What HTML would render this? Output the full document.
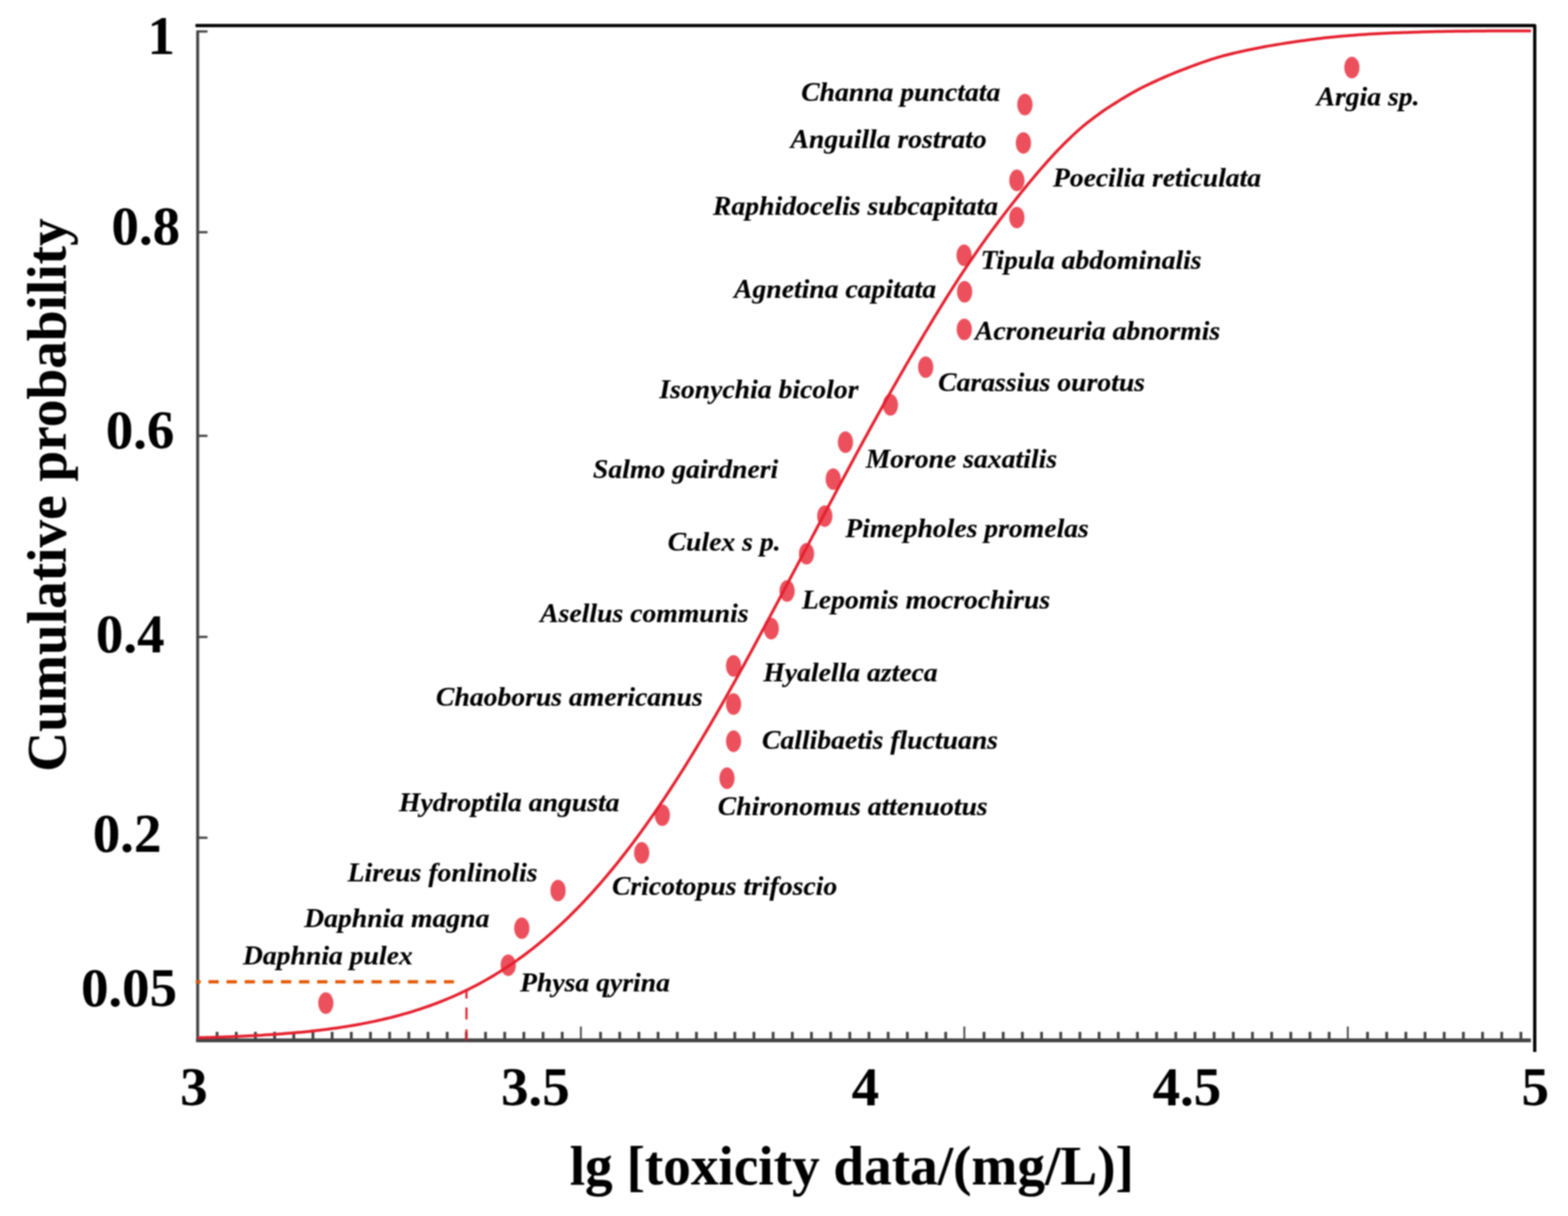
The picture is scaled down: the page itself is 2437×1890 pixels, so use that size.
<!DOCTYPE html>
<html lang="en"><head><meta charset="utf-8"><title>Species sensitivity distribution</title>
<style>html,body{margin:0;padding:0;background:#fff}body{width:2437px;height:1890px;overflow:hidden}svg{display:block}
text{font-family:"Liberation Serif",serif;font-weight:bold;fill:#000;stroke:#000;stroke-width:0.2px;stroke-linejoin:round}
.sp{font-style:italic;font-size:43.0px}.ax{font-size:85.3px}
</style></head><body>
<svg width="2437" height="1890" viewBox="0 0 2437 1890">
<defs><filter id="soft" color-interpolation-filters="sRGB" x="0" y="0" width="2437" height="1890" filterUnits="userSpaceOnUse"><feGaussianBlur stdDeviation="1.0"/></filter></defs>
<rect width="2437" height="1890" fill="#fff"/>
<g filter="url(#soft)">
<rect width="2437" height="1890" fill="#fff"/>
<g fill="none" stroke-linecap="butt">
<line x1="307.2" y1="47.2" x2="307.2" y2="1620.0" stroke="#444" stroke-width="4.6"/>
<line x1="304.7" y1="1617.0" x2="2379.3" y2="1617.0" stroke="#444" stroke-width="6.2"/>
<line x1="307.2" y1="48.9" x2="322.5" y2="48.9" stroke="#444" stroke-width="3.5"/>
<line x1="307.2" y1="360.9" x2="322.5" y2="360.9" stroke="#444" stroke-width="3.5"/>
<line x1="307.2" y1="677.4" x2="322.5" y2="677.4" stroke="#444" stroke-width="3.5"/>
<line x1="307.2" y1="989.9" x2="322.5" y2="989.9" stroke="#444" stroke-width="3.5"/>
<line x1="307.2" y1="1302.1" x2="322.5" y2="1302.1" stroke="#444" stroke-width="3.5"/>
<line x1="337.4" y1="1617.0" x2="337.4" y2="1603.8" stroke="#444" stroke-width="4.4"/>
<line x1="367.2" y1="1617.0" x2="367.2" y2="1603.8" stroke="#444" stroke-width="4.4"/>
<line x1="397.0" y1="1617.0" x2="397.0" y2="1603.8" stroke="#444" stroke-width="4.4"/>
<line x1="426.8" y1="1617.0" x2="426.8" y2="1603.8" stroke="#444" stroke-width="4.4"/>
<line x1="456.6" y1="1617.0" x2="456.6" y2="1603.8" stroke="#444" stroke-width="4.4"/>
<line x1="486.4" y1="1617.0" x2="486.4" y2="1603.8" stroke="#444" stroke-width="4.4"/>
<line x1="516.2" y1="1617.0" x2="516.2" y2="1603.8" stroke="#444" stroke-width="4.4"/>
<line x1="546.0" y1="1617.0" x2="546.0" y2="1603.8" stroke="#444" stroke-width="4.4"/>
<line x1="575.8" y1="1617.0" x2="575.8" y2="1603.8" stroke="#444" stroke-width="4.4"/>
<line x1="605.6" y1="1617.0" x2="605.6" y2="1603.8" stroke="#444" stroke-width="4.4"/>
<line x1="635.4" y1="1617.0" x2="635.4" y2="1603.8" stroke="#444" stroke-width="4.4"/>
<line x1="665.2" y1="1617.0" x2="665.2" y2="1603.8" stroke="#444" stroke-width="4.4"/>
<line x1="695.0" y1="1617.0" x2="695.0" y2="1603.8" stroke="#444" stroke-width="4.4"/>
<line x1="724.8" y1="1617.0" x2="724.8" y2="1603.8" stroke="#444" stroke-width="4.4"/>
<line x1="754.6" y1="1617.0" x2="754.6" y2="1603.8" stroke="#444" stroke-width="4.4"/>
<line x1="784.4" y1="1617.0" x2="784.4" y2="1603.8" stroke="#444" stroke-width="4.4"/>
<line x1="814.2" y1="1617.0" x2="814.2" y2="1603.8" stroke="#444" stroke-width="4.4"/>
<line x1="844.0" y1="1617.0" x2="844.0" y2="1603.8" stroke="#444" stroke-width="4.4"/>
<line x1="873.8" y1="1617.0" x2="873.8" y2="1603.8" stroke="#444" stroke-width="4.4"/>
<line x1="902.8" y1="1617.0" x2="902.8" y2="1595.5" stroke="#444" stroke-width="2.8"/>
<line x1="933.4" y1="1617.0" x2="933.4" y2="1603.8" stroke="#444" stroke-width="4.4"/>
<line x1="963.2" y1="1617.0" x2="963.2" y2="1603.8" stroke="#444" stroke-width="4.4"/>
<line x1="993.0" y1="1617.0" x2="993.0" y2="1603.8" stroke="#444" stroke-width="4.4"/>
<line x1="1022.8" y1="1617.0" x2="1022.8" y2="1603.8" stroke="#444" stroke-width="4.4"/>
<line x1="1052.6" y1="1617.0" x2="1052.6" y2="1603.8" stroke="#444" stroke-width="4.4"/>
<line x1="1082.4" y1="1617.0" x2="1082.4" y2="1603.8" stroke="#444" stroke-width="4.4"/>
<line x1="1112.2" y1="1617.0" x2="1112.2" y2="1603.8" stroke="#444" stroke-width="4.4"/>
<line x1="1142.0" y1="1617.0" x2="1142.0" y2="1603.8" stroke="#444" stroke-width="4.4"/>
<line x1="1171.8" y1="1617.0" x2="1171.8" y2="1603.8" stroke="#444" stroke-width="4.4"/>
<line x1="1201.6" y1="1617.0" x2="1201.6" y2="1603.8" stroke="#444" stroke-width="4.4"/>
<line x1="1231.4" y1="1617.0" x2="1231.4" y2="1603.8" stroke="#444" stroke-width="4.4"/>
<line x1="1261.2" y1="1617.0" x2="1261.2" y2="1603.8" stroke="#444" stroke-width="4.4"/>
<line x1="1291.0" y1="1617.0" x2="1291.0" y2="1603.8" stroke="#444" stroke-width="4.4"/>
<line x1="1320.8" y1="1617.0" x2="1320.8" y2="1603.8" stroke="#444" stroke-width="4.4"/>
<line x1="1350.6" y1="1617.0" x2="1350.6" y2="1603.8" stroke="#444" stroke-width="4.4"/>
<line x1="1380.4" y1="1617.0" x2="1380.4" y2="1603.8" stroke="#444" stroke-width="4.4"/>
<line x1="1410.2" y1="1617.0" x2="1410.2" y2="1603.8" stroke="#444" stroke-width="4.4"/>
<line x1="1440.0" y1="1617.0" x2="1440.0" y2="1603.8" stroke="#444" stroke-width="4.4"/>
<line x1="1469.8" y1="1617.0" x2="1469.8" y2="1603.8" stroke="#444" stroke-width="4.4"/>
<line x1="1498.8" y1="1617.0" x2="1498.8" y2="1595.5" stroke="#444" stroke-width="2.8"/>
<line x1="1529.4" y1="1617.0" x2="1529.4" y2="1603.8" stroke="#444" stroke-width="4.4"/>
<line x1="1559.2" y1="1617.0" x2="1559.2" y2="1603.8" stroke="#444" stroke-width="4.4"/>
<line x1="1589.0" y1="1617.0" x2="1589.0" y2="1603.8" stroke="#444" stroke-width="4.4"/>
<line x1="1618.8" y1="1617.0" x2="1618.8" y2="1603.8" stroke="#444" stroke-width="4.4"/>
<line x1="1648.6" y1="1617.0" x2="1648.6" y2="1603.8" stroke="#444" stroke-width="4.4"/>
<line x1="1678.4" y1="1617.0" x2="1678.4" y2="1603.8" stroke="#444" stroke-width="4.4"/>
<line x1="1708.2" y1="1617.0" x2="1708.2" y2="1603.8" stroke="#444" stroke-width="4.4"/>
<line x1="1738.0" y1="1617.0" x2="1738.0" y2="1603.8" stroke="#444" stroke-width="4.4"/>
<line x1="1767.8" y1="1617.0" x2="1767.8" y2="1603.8" stroke="#444" stroke-width="4.4"/>
<line x1="1797.6" y1="1617.0" x2="1797.6" y2="1603.8" stroke="#444" stroke-width="4.4"/>
<line x1="1827.4" y1="1617.0" x2="1827.4" y2="1603.8" stroke="#444" stroke-width="4.4"/>
<line x1="1857.2" y1="1617.0" x2="1857.2" y2="1603.8" stroke="#444" stroke-width="4.4"/>
<line x1="1887.0" y1="1617.0" x2="1887.0" y2="1603.8" stroke="#444" stroke-width="4.4"/>
<line x1="1916.8" y1="1617.0" x2="1916.8" y2="1603.8" stroke="#444" stroke-width="4.4"/>
<line x1="1946.6" y1="1617.0" x2="1946.6" y2="1603.8" stroke="#444" stroke-width="4.4"/>
<line x1="1976.4" y1="1617.0" x2="1976.4" y2="1603.8" stroke="#444" stroke-width="4.4"/>
<line x1="2006.2" y1="1617.0" x2="2006.2" y2="1603.8" stroke="#444" stroke-width="4.4"/>
<line x1="2036.0" y1="1617.0" x2="2036.0" y2="1603.8" stroke="#444" stroke-width="4.4"/>
<line x1="2065.8" y1="1617.0" x2="2065.8" y2="1603.8" stroke="#444" stroke-width="4.4"/>
<line x1="2094.8" y1="1617.0" x2="2094.8" y2="1595.5" stroke="#444" stroke-width="2.8"/>
<line x1="2125.4" y1="1617.0" x2="2125.4" y2="1603.8" stroke="#444" stroke-width="4.4"/>
<line x1="2155.2" y1="1617.0" x2="2155.2" y2="1603.8" stroke="#444" stroke-width="4.4"/>
<line x1="2185.0" y1="1617.0" x2="2185.0" y2="1603.8" stroke="#444" stroke-width="4.4"/>
<line x1="2214.8" y1="1617.0" x2="2214.8" y2="1603.8" stroke="#444" stroke-width="4.4"/>
<line x1="2244.6" y1="1617.0" x2="2244.6" y2="1603.8" stroke="#444" stroke-width="4.4"/>
<line x1="2274.4" y1="1617.0" x2="2274.4" y2="1603.8" stroke="#444" stroke-width="4.4"/>
<line x1="2304.2" y1="1617.0" x2="2304.2" y2="1603.8" stroke="#444" stroke-width="4.4"/>
<line x1="2334.0" y1="1617.0" x2="2334.0" y2="1603.8" stroke="#444" stroke-width="4.4"/>
<line x1="2363.8" y1="1617.0" x2="2363.8" y2="1603.8" stroke="#444" stroke-width="4.4"/>
</g>
<line x1="304.2" y1="1525.9" x2="705.5" y2="1525.9" stroke="#e35600" stroke-width="5" stroke-dasharray="16 12.16" stroke-dashoffset="8.4"/>
<line x1="725.0" y1="1537" x2="725.0" y2="1617" stroke="#e5202e" stroke-width="3.3" stroke-dasharray="15 14 18.5 15.5 17 100"/>
<g fill="#ec505c">
<ellipse cx="2101.1" cy="105.0" rx="11.8" ry="16.8"/>
<ellipse cx="1592.9" cy="162.5" rx="11.8" ry="16.8"/>
<ellipse cx="1590.6" cy="222.2" rx="11.8" ry="16.8"/>
<ellipse cx="1580.4" cy="280.4" rx="11.8" ry="16.8"/>
<ellipse cx="1580.4" cy="338.2" rx="11.8" ry="16.8"/>
<ellipse cx="1498.4" cy="396.8" rx="11.8" ry="16.8"/>
<ellipse cx="1499.2" cy="453.5" rx="11.8" ry="16.8"/>
<ellipse cx="1498.7" cy="512.0" rx="11.8" ry="16.8"/>
<ellipse cx="1438.7" cy="570.7" rx="11.8" ry="16.8"/>
<ellipse cx="1383.9" cy="629.3" rx="11.8" ry="16.8"/>
<ellipse cx="1314.0" cy="687.3" rx="11.8" ry="16.8"/>
<ellipse cx="1295.0" cy="744.7" rx="11.8" ry="16.8"/>
<ellipse cx="1281.9" cy="802.2" rx="11.8" ry="16.8"/>
<ellipse cx="1253.5" cy="860.7" rx="11.8" ry="16.8"/>
<ellipse cx="1223.3" cy="918.6" rx="11.8" ry="16.8"/>
<ellipse cx="1198.7" cy="977.1" rx="11.8" ry="16.8"/>
<ellipse cx="1140.1" cy="1035.0" rx="11.8" ry="16.8"/>
<ellipse cx="1140.1" cy="1094.3" rx="11.8" ry="16.8"/>
<ellipse cx="1140.1" cy="1152.1" rx="11.8" ry="16.8"/>
<ellipse cx="1129.9" cy="1209.6" rx="11.8" ry="16.8"/>
<ellipse cx="1029.4" cy="1267.0" rx="11.8" ry="16.8"/>
<ellipse cx="997.3" cy="1325.6" rx="11.8" ry="16.8"/>
<ellipse cx="867.3" cy="1384.2" rx="11.8" ry="16.8"/>
<ellipse cx="811.0" cy="1442.7" rx="11.8" ry="16.8"/>
<ellipse cx="789.9" cy="1500.2" rx="11.8" ry="16.8"/>
<ellipse cx="506.4" cy="1559.1" rx="11.8" ry="16.8"/>
</g>
<polyline points="307.2,1613.0 312.2,1612.8 317.2,1612.7 322.2,1612.6 327.2,1612.4 332.2,1612.3 337.2,1612.1 342.2,1611.9 347.2,1611.8 352.2,1611.6 357.2,1611.4 362.2,1611.2 367.2,1611.0 372.2,1610.8 377.2,1610.5 382.2,1610.3 387.2,1610.0 392.2,1609.8 397.2,1609.5 402.2,1609.2 407.2,1609.0 412.2,1608.6 417.2,1608.3 422.2,1608.0 427.2,1607.7 432.2,1607.3 437.2,1606.9 442.2,1606.5 447.2,1606.1 452.2,1605.7 457.2,1605.3 462.2,1604.8 467.2,1604.4 472.2,1603.9 477.2,1603.4 482.2,1602.9 487.2,1602.3 492.2,1601.8 497.2,1601.2 502.2,1600.6 507.2,1599.9 512.2,1599.3 517.2,1598.6 522.2,1597.9 527.2,1597.2 532.2,1596.4 537.2,1595.7 542.2,1594.9 547.2,1594.0 552.2,1593.2 557.2,1592.3 562.2,1591.4 567.2,1590.4 572.2,1589.4 577.2,1588.4 582.2,1587.4 587.2,1586.3 592.2,1585.1 597.2,1584.0 602.2,1582.8 607.2,1581.6 612.2,1580.3 617.2,1579.0 622.2,1577.6 627.2,1576.2 632.2,1574.8 637.2,1573.3 642.2,1571.8 647.2,1570.2 652.2,1568.6 657.2,1566.9 662.2,1565.2 667.2,1563.5 672.2,1561.7 677.2,1559.8 682.2,1557.9 687.2,1555.9 692.2,1553.9 697.2,1551.8 702.2,1549.7 707.2,1547.5 712.2,1545.2 717.2,1542.9 722.2,1540.5 727.2,1538.1 732.2,1535.6 737.2,1533.0 742.2,1530.4 747.2,1527.7 752.2,1524.9 757.2,1522.1 762.2,1519.2 767.2,1516.3 772.2,1513.2 777.2,1510.1 782.2,1506.9 787.2,1503.7 792.2,1500.3 797.2,1496.9 802.2,1493.5 807.2,1489.9 812.2,1486.3 817.2,1482.6 822.2,1478.8 827.2,1474.9 832.2,1470.9 837.2,1466.9 842.2,1462.8 847.2,1458.6 852.2,1454.3 857.2,1449.9 862.2,1445.5 867.2,1440.9 872.2,1436.3 877.2,1431.6 882.2,1426.8 887.2,1421.9 892.2,1416.9 897.2,1411.9 902.2,1406.7 907.2,1401.5 912.2,1396.1 917.2,1390.7 922.2,1385.2 927.2,1379.6 932.2,1373.9 937.2,1368.1 942.2,1362.2 947.2,1356.3 952.2,1350.2 957.2,1344.1 962.2,1337.9 967.2,1331.5 972.2,1325.1 977.2,1318.6 982.2,1312.0 987.2,1305.4 992.2,1298.6 997.2,1291.7 1002.2,1284.8 1007.2,1277.8 1012.2,1270.7 1017.2,1263.5 1022.2,1256.2 1027.2,1248.8 1032.2,1241.4 1037.2,1233.8 1042.2,1226.2 1047.2,1218.5 1052.2,1210.8 1057.2,1202.9 1062.2,1195.0 1067.2,1187.0 1072.2,1178.9 1077.2,1170.8 1082.2,1162.5 1087.2,1154.2 1092.2,1145.9 1097.2,1137.5 1102.2,1129.0 1107.2,1120.4 1112.2,1111.8 1117.2,1103.1 1122.2,1094.3 1127.2,1085.5 1132.2,1076.7 1137.2,1067.7 1142.2,1058.8 1147.2,1049.7 1152.2,1040.7 1157.2,1031.6 1162.2,1022.4 1167.2,1013.2 1172.2,1003.9 1177.2,994.6 1182.2,985.3 1187.2,976.0 1192.2,966.6 1197.2,957.2 1202.2,947.9 1207.2,938.5 1212.2,929.1 1217.2,919.7 1222.2,910.3 1227.2,900.9 1232.2,891.4 1237.2,882.0 1242.2,872.6 1247.2,863.1 1252.2,853.7 1257.2,844.2 1262.2,834.8 1267.2,825.4 1272.2,815.9 1277.2,806.5 1282.2,797.0 1287.2,787.6 1292.2,778.2 1297.2,768.8 1302.2,759.3 1307.2,749.9 1312.2,740.5 1317.2,731.2 1322.2,721.9 1327.2,712.6 1332.2,703.3 1337.2,694.1 1342.2,684.9 1347.2,675.8 1352.2,666.7 1357.2,657.6 1362.2,648.6 1367.2,639.6 1372.2,630.6 1377.2,621.7 1382.2,612.9 1387.2,604.0 1392.2,595.3 1397.2,586.5 1402.2,577.8 1407.2,569.2 1412.2,560.5 1417.2,552.0 1422.2,543.5 1427.2,535.0 1432.2,526.5 1437.2,518.1 1442.2,509.8 1447.2,501.5 1452.2,493.2 1457.2,485.0 1462.2,476.9 1467.2,468.8 1472.2,460.8 1477.2,452.9 1482.2,445.0 1487.2,437.2 1492.2,429.5 1497.2,421.9 1502.2,414.4 1507.2,407.0 1512.2,399.7 1517.2,392.4 1522.2,385.3 1527.2,378.2 1532.2,371.2 1537.2,364.3 1542.2,357.5 1547.2,350.8 1552.2,344.1 1557.2,337.5 1562.2,331.0 1567.2,324.5 1572.2,318.1 1577.2,311.8 1582.2,305.5 1587.2,299.2 1592.2,293.0 1597.2,286.9 1602.2,280.9 1607.2,274.9 1612.2,269.0 1617.2,263.1 1622.2,257.4 1627.2,251.8 1632.2,246.2 1637.2,240.8 1642.2,235.4 1647.2,230.2 1652.2,225.1 1657.2,220.2 1662.2,215.3 1667.2,210.5 1672.2,205.9 1677.2,201.4 1682.2,197.1 1687.2,193.0 1692.2,189.0 1697.2,185.2 1702.2,181.4 1707.2,177.8 1712.2,174.2 1717.2,170.7 1722.2,167.4 1727.2,164.1 1732.2,161.0 1737.2,157.8 1742.2,154.7 1747.2,151.7 1752.2,148.7 1757.2,145.8 1762.2,143.0 1767.2,140.3 1772.2,137.6 1777.2,135.1 1782.2,132.6 1787.2,130.3 1792.2,127.9 1797.2,125.6 1802.2,123.3 1807.2,121.1 1812.2,118.9 1817.2,116.8 1822.2,114.7 1827.2,112.6 1832.2,110.6 1837.2,108.7 1842.2,106.8 1847.2,104.9 1852.2,103.0 1857.2,101.1 1862.2,99.3 1867.2,97.5 1872.2,95.8 1877.2,94.1 1882.2,92.4 1887.2,90.9 1892.2,89.4 1897.2,87.9 1902.2,86.5 1907.2,85.2 1912.2,84.0 1917.2,82.8 1922.2,81.6 1927.2,80.5 1932.2,79.4 1937.2,78.3 1942.2,77.2 1947.2,76.2 1952.2,75.2 1957.2,74.2 1962.2,73.2 1967.2,72.3 1972.2,71.4 1977.2,70.6 1982.2,69.7 1987.2,68.9 1992.2,68.1 1997.2,67.3 2002.2,66.6 2007.2,65.8 2012.2,65.0 2017.2,64.3 2022.2,63.6 2027.2,62.9 2032.2,62.2 2037.2,61.6 2042.2,60.9 2047.2,60.3 2052.2,59.7 2057.2,59.1 2062.2,58.5 2067.2,58.0 2072.2,57.5 2077.2,57.0 2082.2,56.5 2087.2,56.1 2092.2,55.7 2097.2,55.3 2102.2,54.9 2107.2,54.5 2112.2,54.1 2117.2,53.8 2122.2,53.4 2127.2,53.1 2132.2,52.8 2137.2,52.5 2142.2,52.3 2147.2,52.0 2152.2,51.8 2157.2,51.5 2162.2,51.3 2167.2,51.1 2172.2,50.9 2177.2,50.7 2182.2,50.5 2187.2,50.4 2192.2,50.2 2197.2,50.0 2202.2,49.9 2207.2,49.7 2212.2,49.6 2217.2,49.5 2222.2,49.3 2227.2,49.2 2232.2,49.1 2237.2,49.0 2242.2,48.9 2247.2,48.8 2252.2,48.8 2257.2,48.7 2262.2,48.6 2267.2,48.5 2272.2,48.5 2277.2,48.4 2282.2,48.4 2287.2,48.3 2292.2,48.3 2297.2,48.2 2302.2,48.2 2307.2,48.2 2312.2,48.1 2317.2,48.1 2322.2,48.1 2327.2,48.1 2332.2,48.0 2337.2,48.0 2342.2,48.0 2347.2,48.0 2352.2,48.0 2357.2,47.9 2362.2,47.9 2367.2,47.9 2372.2,47.9 2377.2,47.9 2379.6,47.9" fill="none" stroke="#e5202e" stroke-width="4.5" stroke-linejoin="round"/>
<path d="M303.8 39.7 H2385.3 V1635.0" fill="none" stroke="#000" stroke-width="5" stroke-linejoin="round"/>
<g class="sp">
<text x="2046.2" y="164.4">Argia sp.</text>
<text x="1245.2" y="156.8">Channa punctata</text>
<text x="1228.7" y="229.8">Anguilla rostrato</text>
<text x="1636.4" y="290.2">Poecilia reticulata</text>
<text x="1108.1" y="333.7">Raphidocelis subcapitata</text>
<text x="1523.9" y="417.6">Tipula abdominalis</text>
<text x="1140.8" y="463.0">Agnetina capitata</text>
<text x="1515.3" y="528.3">Acroneuria abnormis</text>
<text x="1458.1" y="607.7">Carassius ourotus</text>
<text x="1024.8" y="619.0">Isonychia bicolor</text>
<text x="1345.4" y="727.0">Morone saxatilis</text>
<text x="921.6" y="742.8">Salmo gairdneri</text>
<text x="1313.7" y="835.4">Pimepholes promelas</text>
<text x="1037.7" y="856.2">Culex s p.</text>
<text x="1246.3" y="945.8">Lepomis mocrochirus</text>
<text x="839.6" y="967.0">Asellus communis</text>
<text x="1186.3" y="1059.2">Hyalella azteca</text>
<text x="677.6" y="1097.0">Chaoborus americanus</text>
<text x="1184.3" y="1163.5">Callibaetis fluctuans</text>
<text x="1115.6" y="1267.0">Chironomus attenuotus</text>
<text x="620.0" y="1260.6">Hydroptila angusta</text>
<text x="951.2" y="1390.6">Cricotopus trifoscio</text>
<text x="540.3" y="1370.0">Lireus fonlinolis</text>
<text x="472.7" y="1440.9">Daphnia magna</text>
<text x="377.5" y="1499.4">Daphnia pulex</text>
<text x="808.3" y="1541.0">Physa qyrina</text>
</g>
<g class="ax">
<text x="229.2" y="84.1">1</text>
<text x="173.3" y="379.6">0.8</text>
<text x="164.4" y="697.3">0.6</text>
<text x="149.1" y="1014.3">0.4</text>
<text x="144.2" y="1323.8">0.2</text>
<text x="125.9" y="1563.9">0.05</text>
<text x="280.1" y="1718.3">3</text>
<text x="778.7" y="1718.3">3.5</text>
<text x="1323.7" y="1718.3">4</text>
<text x="1791.4" y="1718.3">4.5</text>
<text x="2364.7" y="1718.3">5</text>
<text x="885.5" y="1841.0" style="font-size:85.8px">lg [toxicity data/(mg/L)]</text>
<text transform="translate(101.9 1199.6) rotate(-90)" x="0" y="0" style="font-size:85.95px">Cumulative probability</text>
</g>
</g>
</svg></body></html>
